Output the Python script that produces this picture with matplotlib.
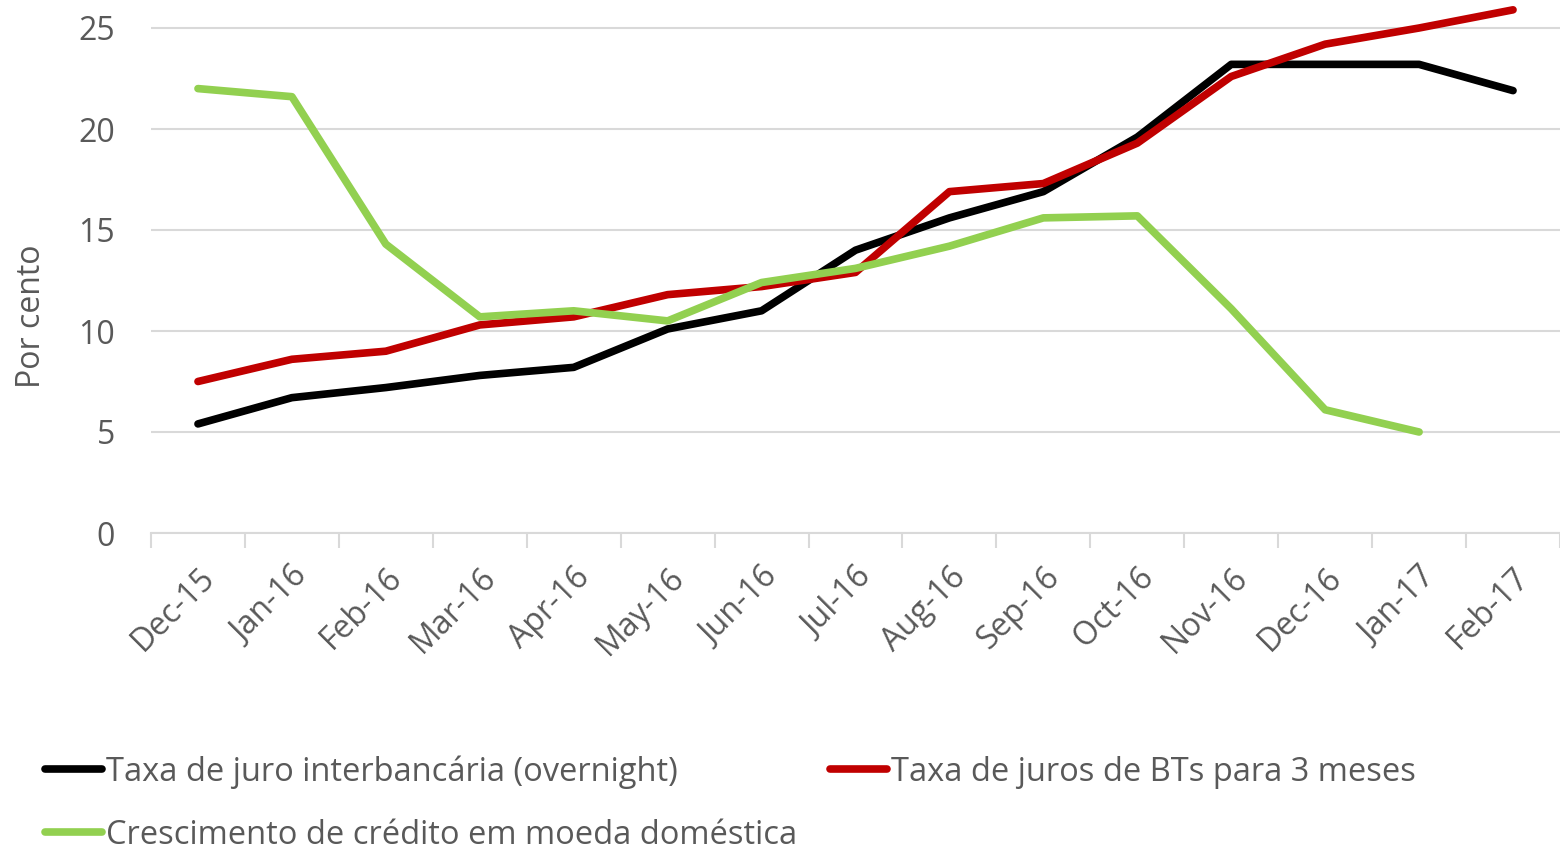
import matplotlib.pyplot as plt
from matplotlib.transforms import ScaledTranslation

months = ["Dec-15", "Jan-16", "Feb-16", "Mar-16", "Apr-16", "May-16", "Jun-16",
          "Jul-16", "Aug-16", "Sep-16", "Oct-16", "Nov-16", "Dec-16", "Jan-17", "Feb-17"]

overnight = [5.4, 6.7, 7.2, 7.8, 8.2, 10.1, 11.0, 14.0, 15.6, 16.9, 19.6, 23.2, 23.2, 23.2, 21.9]
bt_3m = [7.5, 8.6, 9.0, 10.3, 10.7, 11.8, 12.2, 12.9, 16.9, 17.3, 19.3, 22.6, 24.2, 25.0, 25.9]
credit = [22.0, 21.6, 14.3, 10.7, 11.0, 10.5, 12.4, 13.1, 14.2, 15.6, 15.7, 11.1, 6.1, 5.0]

plt.rcParams['font.family'] = ['Open Sans', 'DejaVu Sans']
grey = '#595959'
fs = 23

fig = plt.figure(figsize=(15.6, 8.49), dpi=100)
ax = fig.add_axes([151 / 1560, 1 - 533 / 849, 1 - 151 / 1560, 533 / 849])

x = list(range(len(months)))
l1, = ax.plot(x, overnight, color='black', lw=5.5, solid_capstyle='round',
              label='Taxa de juro interbancária (overnight)')
l2, = ax.plot(x, bt_3m, color='#C00000', lw=5.5, solid_capstyle='round',
              label='Taxa de juros de BTs para 3 meses')
l3, = ax.plot(x[:len(credit)], credit, color='#92D050', lw=5.5, solid_capstyle='round',
              label='Crescimento de crédito em moeda doméstica')

ax.set_xlim(-0.5, 14.46)
ax.set_ylim(0, 533 / 20.2)
ax.set_yticks([0, 5, 10, 15, 20, 25])
ax.yaxis.grid(True, color='#D9D9D9', lw=1.5)
ax.set_axisbelow(True)

# category boundaries get the tick marks, centres get the labels
ax.set_xticks([i - 0.5 for i in range(len(months) + 1)])
ax.set_xticklabels([])
ax.set_xticks(x, minor=True)
ax.set_xticklabels(months, minor=True, rotation=45, ha='right', va='top',
                   rotation_mode='anchor', fontsize=fs, color=grey)
shift = ScaledTranslation(1 / 100, 0, fig.dpi_scale_trans)
for lab in ax.get_xticklabels(minor=True):
    lab.set_transform(lab.get_transform() + shift)
ax.tick_params(axis='x', which='major', length=11, width=1.5, color='#D9D9D9')
ax.tick_params(axis='x', which='minor', length=0, pad=20)
ax.tick_params(axis='y', length=0, labelsize=fs, colors=grey, pad=26)

for s in ['top', 'right', 'left']:
    ax.spines[s].set_visible(False)
ax.spines['bottom'].set_color('#D9D9D9')
ax.spines['bottom'].set_linewidth(1.5)

ax.set_ylabel('Por cento', fontsize=fs, color=grey)
ax.yaxis.set_label_coords(-0.073, (533 - 316) / 533)

fig.legend(handles=[l1, l3, l2], loc='upper left', bbox_to_anchor=(32 / 1560, 1 - 742 / 849),
           ncol=2, frameon=False, fontsize=23.5, handlelength=1.75, handletextpad=0.12,
           columnspacing=1.0, labelcolor=grey, labelspacing=0.93, borderaxespad=0)

fig.savefig('out.png', dpi=100)
